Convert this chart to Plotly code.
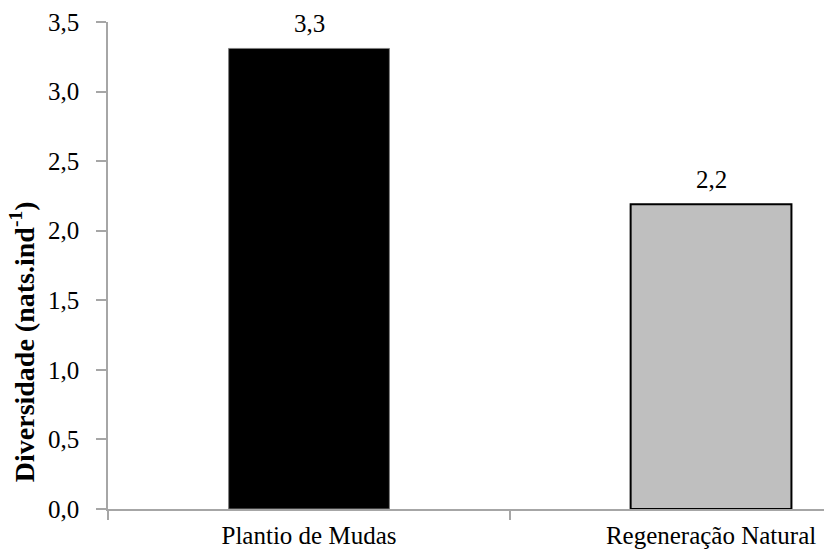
import plotly.graph_objects as go

categories = ["Plantio de Mudas", "Regeneração Natural"]
values = [3.31, 2.19]
value_labels = ["3,3", "2,2"]
bar_colors = ["#000000", "#bfbfbf"]
bar_line_colors = ["#7f7f7f", "#000000"]
bar_line_widths = [1, 2]
y_ticks = [0, 0.5, 1.0, 1.5, 2.0, 2.5, 3.0, 3.5]

FONT = "Liberation Serif"
AXIS = "#a6a6a6"

fig = go.Figure()
fig.add_trace(go.Bar(
    x=categories, y=values, width=0.4,
    marker=dict(color=bar_colors, line=dict(color=bar_line_colors, width=bar_line_widths)),
    hoverinfo="skip",
))

for c, v, t in zip(categories, values, value_labels):
    fig.add_annotation(x=c, y=v, text=t, showarrow=False, yanchor="bottom",
                       yshift=9, font=dict(family=FONT, size=25, color="#000000"))

fig.add_annotation(xref="paper", yref="paper", x=-0.12, y=0.05,
                   text="<b>Diversidade (nats.ind<sup>-1</sup>)</b>", textangle=-90,
                   showarrow=False, xanchor="center", yanchor="bottom",
                   font=dict(family=FONT, size=28, color="#000000"))

fig.update_layout(
    width=824, height=553,
    margin=dict(l=108, r=0, t=22, b=44),
    plot_bgcolor="white", paper_bgcolor="white",
    separators=",.",
    showlegend=False,
    font=dict(family=FONT, size=25, color="#000000"),
    xaxis=dict(
        type="category", range=[-0.5, 1.281], automargin=False,
        showline=True, linecolor=AXIS, linewidth=1.5,
        ticks="outside", tickson="boundaries", ticklen=9, tickcolor=AXIS, tickwidth=1.5,
        tickfont=dict(family=FONT, size=25, color="#000000"),
        showgrid=False, zeroline=False, ticklabelstandoff=3,
    ),
    yaxis=dict(
        range=[0, 3.5], tickvals=y_ticks, tickformat=".1f", automargin=False,
        showline=True, linecolor=AXIS, linewidth=1.5,
        ticks="outside", ticklen=10, tickcolor=AXIS, tickwidth=1.5,
        tickfont=dict(family=FONT, size=25, color="#000000"),
        showgrid=False, zeroline=False, ticklabelstandoff=12,
    ),
)

fig.write_html("out.html")
